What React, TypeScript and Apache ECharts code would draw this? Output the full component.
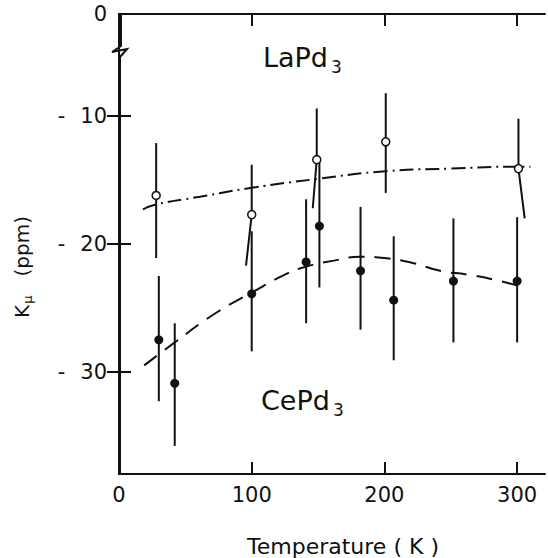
import React, { useEffect, useRef } from "react";
import * as echarts from "echarts";

// LaPd3 (open circles)
const laT = [28, 100, 149, 201, 301];
const laK = [-16.2, -17.7, -13.4, -12.0, -14.1];
const laHi = [-12.1, -13.8, -9.4, -8.2, -10.2];
const laLo = [-21.1, -21.7, -17.2, -16.0, -18.0];
// temperature at which the (slanted) lower whisker ends
const laLoT = [28, 95.7, 146, 201, 305.7];

// CePd3 (filled circles)
const ceT = [30, 42, 100, 141, 151, 182, 207, 252, 300];
const ceK = [-27.5, -30.9, -23.9, -21.4, -18.6, -22.1, -24.4, -22.9, -22.9];
const ceHi = [-22.5, -26.2, -19.0, -16.5, -13.6, -17.1, -19.4, -18.0, -17.9];
const ceLo = [-32.3, -35.8, -28.4, -26.2, -23.4, -26.7, -29.1, -27.7, -27.7];

// guide curves
const laFitT = [18, 28, 61, 100, 150, 201, 250, 300, 310];
const laFitK = [-17.3, -16.9, -16.3, -15.6, -14.9, -14.3, -14.1, -13.95, -13.95];
const ceFitT = [19, 42, 73, 100, 125, 140, 162, 182, 200, 222, 242, 263, 283, 305];
const ceFitK = [-29.5, -27.7, -25.4, -23.8, -22.4, -21.8, -21.3, -21.0, -21.1, -21.5, -22.1, -22.4, -22.8, -23.4];

const xTicks = [100, 200, 300];
const xLabels = [0, 100, 200, 300];
const yTicks = [-30, -20, -10];
const yLabelVals = [-30, -20, -10, -2];

const INK = "#111";
const FONT = "DejaVu Sans";

export default function App() {
  const ref = useRef<HTMLDivElement>(null);
  useEffect(() => {
    if (!ref.current) return;
    const chart = echarts.init(ref.current, undefined, { renderer: "svg" });
    const G = { left: 119, right: 3, top: 14, bottom: 84 };

    const laBars = laT.map((t, i) => [t, laLo[i], laHi[i], laK[i], laLoT[i]]);
    const ceBars = ceT.map((t, i) => [t, ceLo[i], ceHi[i], ceK[i], t]);

    const renderBar = (params: any, api: any) => {
      const t = api.value(0);
      const lo = api.value(1);
      const hi = api.value(2);
      const k = api.value(3);
      const tl = api.value(4);
      const top = api.coord([t, hi]);
      const mid = api.coord([t, k]);
      const bot = api.coord([tl, lo]);
      return {
        type: "polyline",
        shape: { points: [top, mid, bot] },
        style: { stroke: INK, lineWidth: 2, fill: "none" },
      };
    };

    const yLabelFmt = (v: number) =>
      v === -2 ? "{n|0}" : "{m|-}{n|" + String(-v) + "}";

    chart.setOption({
      animation: false,
      backgroundColor: "#fff",
      grid: G,
      xAxis: [
        {
          type: "value",
          position: "bottom",
          min: 0,
          max: 321,
          axisLine: { show: true, lineStyle: { color: INK, width: 2 } },
          axisTick: {
            show: true,
            inside: true,
            length: 12,
            customValues: xTicks,
            lineStyle: { color: INK, width: 2 },
          },
          axisLabel: {
            customValues: xLabels,
            margin: 10,
            color: INK,
            fontSize: 21,
            fontFamily: FONT,
          },
          splitLine: { show: false },
        },
        {
          type: "value",
          position: "top",
          min: 0,
          max: 321,
          axisLine: { show: true, lineStyle: { color: INK, width: 2 } },
          axisTick: {
            show: true,
            inside: true,
            length: 12,
            customValues: xTicks,
            lineStyle: { color: INK, width: 2 },
          },
          axisLabel: { show: false },
          splitLine: { show: false },
        },
      ],
      yAxis: [
        {
          type: "value",
          position: "left",
          min: -38,
          max: -2,
          axisLine: { show: false },
          axisTick: {
            show: true,
            inside: true,
            length: 12,
            customValues: yTicks,
            lineStyle: { color: INK, width: 2 },
          },
          axisLabel: {
            customValues: yLabelVals,
            margin: 12,
            formatter: yLabelFmt,
            color: INK,
            fontSize: 21,
            fontFamily: FONT,
            rich: {
              m: { fontSize: 21, fontFamily: FONT, color: INK, padding: [0, 15, 0, 0] },
              n: { fontSize: 21, fontFamily: FONT, color: INK },
            },
          },
          splitLine: { show: false },
        },
        {
          type: "value",
          position: "right",
          min: -38,
          max: -2,
          axisLine: { show: true, lineStyle: { color: INK, width: 2 } },
          axisTick: {
            show: true,
            inside: true,
            length: 12,
            customValues: yTicks,
            lineStyle: { color: INK, width: 2 },
          },
          axisLabel: { show: false },
          splitLine: { show: false },
        },
      ],
      series: [
        {
          type: "custom",
          name: "LaPd3 bars",
          renderItem: renderBar,
          encode: { x: [0, 4], y: [1, 2] },
          data: laBars,
          z: 2,
        },
        {
          type: "custom",
          name: "CePd3 bars",
          renderItem: renderBar,
          encode: { x: [0, 4], y: [1, 2] },
          data: ceBars,
          z: 2,
        },
        {
          type: "line",
          name: "LaPd3 fit",
          data: laFitT.map((t, i) => [t, laFitK[i]]),
          smooth: true,
          showSymbol: false,
          symbol: "none",
          lineStyle: { color: INK, width: 2, type: [14, 5, 2, 5] },
          z: 3,
        },
        {
          type: "line",
          name: "CePd3 fit",
          data: ceFitT.map((t, i) => [t, ceFitK[i]]),
          smooth: true,
          showSymbol: false,
          symbol: "none",
          lineStyle: { color: INK, width: 2, type: [16, 10] },
          z: 3,
        },
        {
          type: "scatter",
          name: "LaPd3",
          data: laT.map((t, i) => [t, laK[i]]),
          symbol: "circle",
          symbolSize: 8,
          itemStyle: { color: "#fff", borderColor: INK, borderWidth: 1.5, opacity: 1 },
          z: 5,
        },
        {
          type: "scatter",
          name: "CePd3",
          data: ceT.map((t, i) => [t, ceK[i]]),
          symbol: "circle",
          symbolSize: 9,
          itemStyle: { color: INK, opacity: 1 },
          z: 5,
        },
      ],
      graphic: [
        {
          type: "polyline",
          z: 100,
          shape: {
            points: [
              [121, 14],
              [121, 46],
              [112, 52],
              [127, 49],
              [120, 57],
              [120, 474],
            ],
          },
          style: { stroke: INK, lineWidth: 2, fill: "none" },
        },
        {
          type: "text",
          z: 100,
          x: 263,
          y: 57,
          style: {
            text: "{a|LaPd}{b|3}",
            textVerticalAlign: "middle",
            rich: {
              a: { fontSize: 27, fontFamily: FONT, fill: INK },
              b: { fontSize: 17, fontFamily: FONT, fill: INK, padding: [20, 0, 0, 3] },
            },
          },
        },
        {
          type: "text",
          z: 100,
          x: 261,
          y: 400,
          style: {
            text: "{a|CePd}{b|3}",
            textVerticalAlign: "middle",
            rich: {
              a: { fontSize: 27, fontFamily: FONT, fill: INK },
              b: { fontSize: 17, fontFamily: FONT, fill: INK, padding: [20, 0, 0, 3] },
            },
          },
        },
        {
          type: "text",
          z: 100,
          x: 343,
          y: 546,
          style: {
            text: "Temperature ( K )",
            textAlign: "center",
            textVerticalAlign: "middle",
            fontSize: 22,
            fontFamily: FONT,
            fill: INK,
          },
        },
        {
          type: "text",
          z: 100,
          x: 22,
          y: 267,
          rotation: Math.PI / 2,
          style: {
            text: "{a|K}{b|μ}{a|   (ppm)}",
            textAlign: "center",
            textVerticalAlign: "middle",
            rich: {
              a: { fontSize: 20, fontFamily: FONT, fill: INK },
              b: { fontSize: 13, fontFamily: FONT, fill: INK, padding: [10, 0, 0, 1] },
            },
          },
        },
      ],
    });
    return () => chart.dispose();
  }, []);
  return (
    <div
      ref={ref}
      style={{ position: "absolute", left: 0, top: 0, width: 548, height: 558, background: "#fff" }}
    />
  );
}
